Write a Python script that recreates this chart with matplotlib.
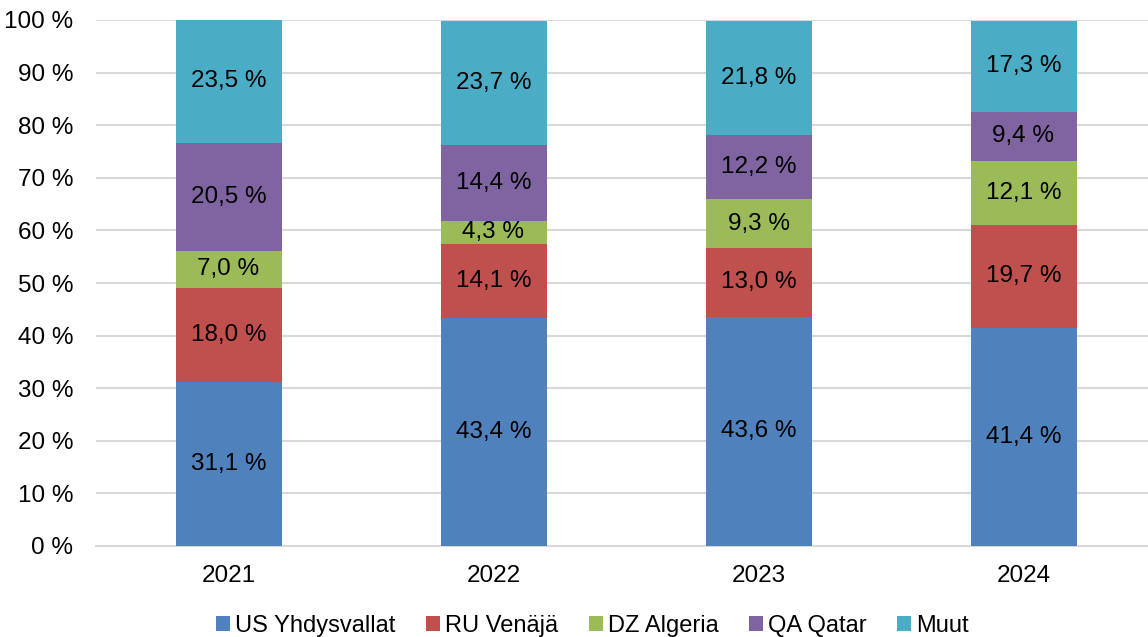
import matplotlib
matplotlib.use("Agg")
import matplotlib.pyplot as plt
import numpy as np

plt.rcParams["font.family"] = ["Liberation Sans", "DejaVu Sans"]

YEARS = ["2021", "2022", "2023", "2024"]
SERIES = ["US Yhdysvallat", "RU Venäjä", "DZ Algeria", "QA Qatar", "Muut"]
US = [31.1, 43.4, 43.6, 41.4]
RU = [18.0, 14.1, 13.0, 19.7]
DZ = [7.0, 4.3, 9.3, 12.1]
QA = [20.5, 14.4, 12.2, 9.4]
MUUT = [23.5, 23.7, 21.8, 17.3]
COLORS = ["#4f81bd", "#c0504d", "#9bbb59", "#8064a2", "#4bacc6"]

GRID = "#d9d9d9"
FS = 17.5

fig = plt.figure(figsize=(11.48, 6.37), dpi=100)
ax = fig.add_axes([96 / 1148, 1 - 546 / 637, 1060 / 1148, 526 / 637])

x = np.arange(len(YEARS))
bottom = np.zeros(len(YEARS))
for name, vals, c in zip(SERIES, [US, RU, DZ, QA, MUUT], COLORS):
    vals = np.array(vals)
    ax.bar(x, vals, width=0.4, bottom=bottom, color=c, label=name, zorder=3)
    for xi, b, v in zip(x, bottom, vals):
        ax.text(xi, b + v / 2, f"{v:.1f} %".replace(".", ","), ha="center",
                va="center", fontsize=FS, color="black", zorder=4)
    bottom += vals

ax.set_xlim(-0.5, 3.5)
ax.set_ylim(0, 100)
ax.set_yticks(range(0, 101, 10))
ax.set_yticklabels([f"{v} %" for v in range(0, 101, 10)], fontsize=FS)
ax.set_xticks(x)
ax.set_xticklabels(YEARS, fontsize=FS)
ax.tick_params(axis="x", length=0, pad=14)
ax.tick_params(axis="y", length=0, pad=16.5)
for s in ("top", "right", "left"):
    ax.spines[s].set_visible(False)
ax.spines["bottom"].set_color(GRID)
ax.spines["bottom"].set_linewidth(1.5)
ax.yaxis.grid(True, color=GRID, linewidth=1.5, zorder=0)
ax.set_axisbelow(True)

fig.legend(loc="center", bbox_to_anchor=(0.516, 0.017), ncol=5, frameon=False,
           fontsize=17, handlelength=0.6, handleheight=0.6, handletextpad=0.2,
           columnspacing=1.3, borderpad=0.2)

fig.savefig("out.png", dpi=100)
